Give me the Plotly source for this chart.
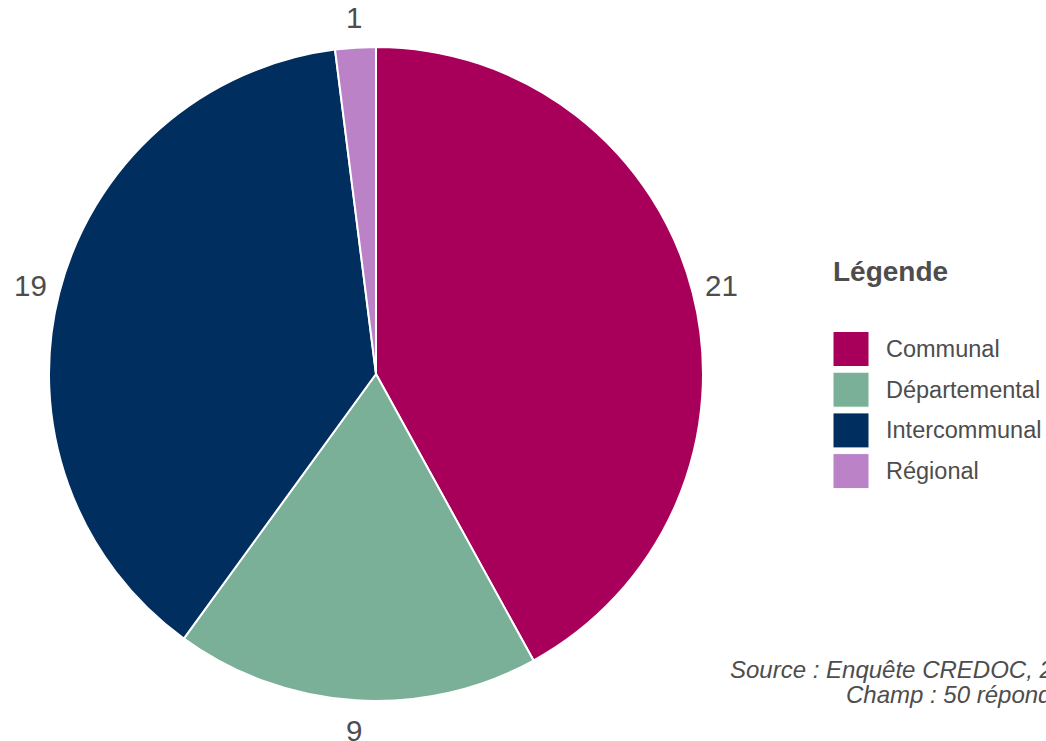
import math
import plotly.graph_objects as go

categories = ["Communal", "Départemental", "Intercommunal", "Régional"]
values = [21, 9, 19, 1]
colors = ["#A8005A", "#7AB097", "#002E5F", "#BB82C8"]
legend_title = "Légende"
caption_lines = ["Source : Enquête CREDOC, 2023", "Champ : 50 répondants"]

W, H = 1046, 741
FONT = "Liberation Sans, Arial, sans-serif"
GREY = "#4D4D4D"

cx, cy, r = 376, 374, 327
label_r = 357

fig = go.Figure(go.Pie(
    labels=categories, values=values, sort=False, direction="clockwise", rotation=0,
    marker=dict(colors=colors, line=dict(color="white", width=2)),
    textinfo="none",
    domain=dict(x=[(cx - r) / W, (cx + r) / W], y=[(H - cy - r) / H, (H - cy + r) / H]),
    showlegend=False, hoverinfo="label+value",
))

shapes = []
annotations = []

# value labels outside the slices, at the middle angle of each slice
total = sum(values)
cum = 0
for v in values:
    mid = (cum + v / 2) / total * 2 * math.pi
    cum += v
    px = cx + label_r * math.sin(mid)
    py = cy - label_r * math.cos(mid)
    annotations.append(dict(x=px / W, y=1 - py / H, xref="paper", yref="paper",
                            xanchor="center", yanchor="middle", text=str(v), showarrow=False,
                            font=dict(family=FONT, size=29.5, color=GREY)))

annotations.append(dict(x=831 / W, y=1 - 271 / H, xref="paper", yref="paper", xanchor="left", yanchor="middle",
                        text="<b>%s</b>" % legend_title, showarrow=False,
                        font=dict(family=FONT, size=28, color=GREY)))
for i, (c, col) in enumerate(zip(categories, colors)):
    yc = 349 + i * 40.7
    shapes.append(dict(type="rect", xref="paper", yref="paper",
                       x0=833 / W, x1=869 / W, y0=1 - (yc - 17.5) / H, y1=1 - (yc + 17.5) / H,
                       fillcolor=col, line=dict(color="white", width=1)))
    annotations.append(dict(x=884 / W, y=1 - yc / H, xref="paper", yref="paper", xanchor="left", yanchor="middle",
                            text=c, showarrow=False, font=dict(family=FONT, size=23.5, color=GREY)))

caption_right = [1096, 1099]
for j, line in enumerate(caption_lines):
    annotations.append(dict(x=caption_right[j] / W, y=1 - (669 + 25 * j) / H, xref="paper", yref="paper",
                            xanchor="right", yanchor="middle", align="right",
                            text="<i>%s</i>" % line, showarrow=False,
                            font=dict(family=FONT, size=24, color=GREY)))

fig.update_layout(width=W, height=H, margin=dict(l=0, r=0, t=0, b=0),
                  paper_bgcolor="white", plot_bgcolor="white",
                  shapes=shapes, annotations=annotations)
fig.write_html("out.html", config={"displayModeBar": False},
               post_script="document.body.style.margin='0';document.body.style.overflow='hidden';")
